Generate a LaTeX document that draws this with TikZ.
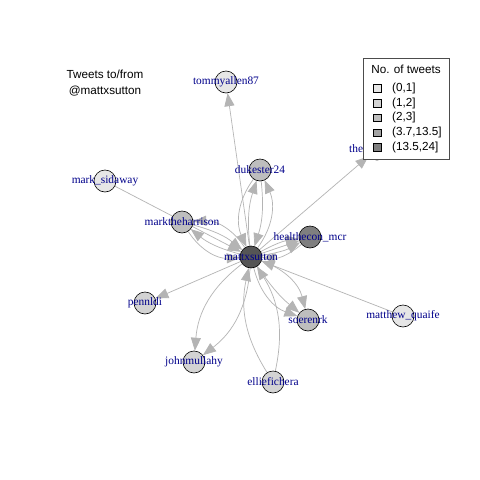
\documentclass[tikz,border=0pt]{standalone}
\usepackage{fontspec}
\setmainfont{Liberation Serif}
\setsansfont{Liberation Sans}
\usetikzlibrary{arrows.meta}
\pgfdeclarelayer{bg}
\pgfsetlayers{bg,main}
\definecolor{edgec}{HTML}{B4B4B4}
\definecolor{labc}{HTML}{00008B}
\definecolor{cA}{HTML}{E6E6E6}
\definecolor{cB}{HTML}{D3D3D3}
\definecolor{cC}{HTML}{BEBEBE}
\definecolor{cD}{HTML}{A3A3A3}
\definecolor{cE}{HTML}{7F7F7F}
\definecolor{cM}{HTML}{555555}
\begin{document}
\begin{tikzpicture}[x=1pt,y=-1pt,
  vtx/.style={circle, draw=black, line width=0.6pt, minimum size=22pt, inner sep=0pt},
  lab/.style={text=labc, font=\fontsize{11.4}{11.4}\selectfont, inner sep=0pt},
  edg/.style={draw=edgec, line width=0.7pt, -{Triangle[length=13pt,width=10pt]}},
  sans/.style={font=\sffamily\fontsize{11.7}{16}\selectfont, inner sep=0pt},
  lsq/.style={draw=black, line width=0.5pt, minimum size=7.5pt, inner sep=0pt}
]
\useasboundingbox (0,0) rectangle (480,480);

% vertices
\node[vtx, fill=cM] (m) at (251,257) {};
\node[vtx, fill=cA] (tommy) at (226,82) {};
\node[vtx, fill=cC] (duke) at (260,170) {};
\node[vtx, fill=cC] (mth) at (182,222) {};
\node[vtx, fill=cA] (sid) at (105,181) {};
\node[vtx, fill=cE] (hec) at (310,237) {};
\node[vtx, fill=cA] (the) at (377,149) {};
\node[vtx, fill=cB] (pen) at (145,303) {};
\node[vtx, fill=cB] (john) at (194,362) {};
\node[vtx, fill=cB] (ellie) at (273,382) {};
\node[vtx, fill=cC] (soe) at (308,320) {};
\node[vtx, fill=cA] (mq) at (403,316) {};

% edges
\begin{pgfonlayer}{bg}
\fill[white] (0,0) rectangle (480,480);
\draw[edg] (m) -- (tommy);
\draw[edg] (m) -- (the);
\draw[edg] (sid) -- (m);
\draw[edg] (mq) -- (m);
\draw[edg] (m) -- (pen);
\draw[edg] (m) to[bend left=12] (duke);
\draw[edg] (m) to[bend right=30] (duke);
\draw[edg] (duke) to[bend left=12] (m);
\draw[edg] (duke) to[bend right=30] (m);
\draw[edg] (m) to[bend left=12] (mth);
\draw[edg] (m) to[bend right=30] (mth);
\draw[edg] (mth) to[bend left=12] (m);
\draw[edg] (mth) to[bend right=30] (m);
\draw[edg] (m) -- (hec);
\draw[edg] (m) to[bend left=10] (hec);
\draw[edg] (m) to[bend right=10] (hec);
\draw[edg] (hec) to[bend left=22] (m);
\draw[edg] (m) to[bend left=28] (soe);
\draw[edg] (m) to[bend right=28] (soe);
\draw[edg] (m) to[bend right=8] (soe);
\draw[edg] (m) to[bend left=24] (john);
\draw[edg] (m) to[bend right=24] (john);
\draw[edg] (ellie) to[bend left=22] (m);
\draw[edg] (ellie) to[bend right=22] (m);
\end{pgfonlayer}

% labels
\node[lab] at (m) {mattxsutton};
\node[lab] at (tommy) {tommyallen87};
\node[lab] at (duke) {dukester24};
\node[lab] at (mth) {marktheharrison};
\node[lab] at (sid) {mark\_sidaway};
\node[lab] at (hec) {healthecon\_mcr};
\node[lab, anchor=west] at ([xshift=-28pt]the.center) {the};
\node[lab] at (pen) {pennldi};
\node[lab] at (john) {johnmullahy};
\node[lab] at (ellie) {elliefichera};
\node[lab] at (soe) {soerenrk};
\node[lab] at (mq) {matthew\_quaife};

% title
\node[sans, align=center] (title) at (105,83) {Tweets to/from\\@mattxsutton};

% legend
\node[draw=black!70, line width=0.6pt, fill=white, minimum width=86pt, minimum height=101pt, inner sep=0pt] (leg) at (406,108.5) {};
\node[sans] (lt) at (406,69) {No. of tweets};
\node[lsq, fill=cA] (s1) at (377,88) {};
\node[lsq, fill=cB] (s2) at (377,103) {};
\node[lsq, fill=cC] (s3) at (377,117.5) {};
\node[lsq, fill=cD] (s4) at (377,132.5) {};
\node[lsq, fill=cE] (s5) at (377,147) {};
\node[sans, anchor=west] at (392,88) {(0,1]};
\node[sans, anchor=west] at (392,103) {(1,2]};
\node[sans, anchor=west] at (392,117.5) {(2,3]};
\node[sans, anchor=west] at (392,132.5) {(3.7,13.5]};
\node[sans, anchor=west] at (392,147) {(13.5,24]};
\end{tikzpicture}
\end{document}
